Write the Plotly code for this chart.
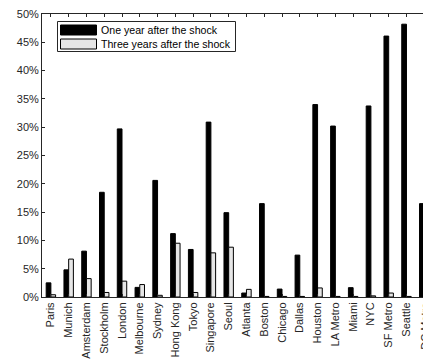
import plotly.graph_objects as go

# Share of office value lost after the shock, by metro area (percent)
cities = ["Paris", "Munich", "Amsterdam", "Stockholm", "London", "Melbourne",
          "Sydney", "Hong Kong", "Tokyo", "Singapore", "Seoul", "Atlanta",
          "Boston", "Chicago", "Dallas", "Houston", "LA Metro", "Miami",
          "NYC", "SF Metro", "Seattle", "DC Metro"]
one_year = [2.5, 4.8, 8.1, 18.5, 29.7, 1.7, 20.6, 11.2, 8.4, 30.9, 14.9,
            0.7, 16.5, 1.4, 7.4, 34.0, 30.2, 1.65, 33.75, 46.1, 48.2, 16.5]
three_years = [0.4, 6.7, 3.25, 0.8, 2.8, 2.2, 0.3, 9.5, 0.8, 7.8, 8.8,
               1.35, 0.1, 0.1, 0.1, 1.6, 0.1, 0.1, 0.2, 0.7, 0.1, 0.1]
series_names = ["One year after the shock", "Three years after the shock"]
y_ticks = list(range(0, 51, 5))
y_tick_labels = [f"{v}%" for v in y_ticks]

W, H = 423, 363
ML, MR, MT, MB = 42, 0, 14, 66
FONT = "Liberation Sans, Arial, Helvetica, sans-serif"
AXIS = "#262626"
BLACK = "#000000"
LIGHT = "#e6e6e6"


def px(x):
    return (x - ML) / (W - ML - MR)


def py(y):
    return 1 - (y - MT) / (H - MT - MB)


fig = go.Figure()
fig.add_trace(go.Bar(x=cities, y=one_year, name=series_names[0],
                     marker=dict(color=BLACK, line=dict(color=BLACK, width=1))))
fig.add_trace(go.Bar(x=cities, y=three_years, name=series_names[1],
                     marker=dict(color=LIGHT, line=dict(color=BLACK, width=1))))

# the axis is wider than the page, so the last city's label sits past the edge
last = len(cities) - 1
x_lo, x_hi = -0.5, 20.93
fig.add_annotation(x=(last - x_lo) / (x_hi - x_lo), y=0, xref="paper", yref="paper",
                   text=cities[last], textangle=-90, showarrow=False,
                   xanchor="center", yanchor="top", yshift=-4,
                   font=dict(family=FONT, size=11, color=AXIS))

# legend box drawn as a MATLAB-style legend
shapes = [
    dict(type="rect", xref="paper", yref="paper", x0=px(57.5), x1=px(235.5),
         y0=py(51.5), y1=py(21.5), line=dict(color=AXIS, width=1), fillcolor="white"),
    dict(type="rect", xref="paper", yref="paper", x0=px(60.5), x1=px(96.5),
         y0=py(35), y1=py(25), line=dict(color=BLACK, width=1), fillcolor=BLACK),
    dict(type="rect", xref="paper", yref="paper", x0=px(60.5), x1=px(96.5),
         y0=py(49), y1=py(39), line=dict(color=BLACK, width=1), fillcolor=LIGHT),
]
for name, yc in zip(series_names, [30, 44]):
    fig.add_annotation(x=px(98.5), y=py(yc), xref="paper", yref="paper",
                       text=name, showarrow=False, xanchor="left", yanchor="middle",
                       font=dict(family=FONT, size=10.6, color=BLACK))

fig.update_layout(
    width=W, height=H,
    margin=dict(l=ML, r=MR, t=MT, b=MB, pad=0),
    paper_bgcolor="white", plot_bgcolor="white",
    barmode="group", bargap=0.47, bargroupgap=0,
    showlegend=False,
    shapes=shapes,
    font=dict(family=FONT, size=11, color=AXIS),
)
fig.update_xaxes(range=[x_lo, x_hi], tickangle=-90, ticks="inside", ticklen=3,
                 tickcolor=AXIS, showline=True, linecolor=AXIS, linewidth=1,
                 mirror="ticks", showgrid=False, zeroline=False,
                 tickfont=dict(family=FONT, size=11, color=AXIS))
fig.update_yaxes(range=[0, 50], tickmode="array", tickvals=y_ticks,
                 ticktext=y_tick_labels, ticks="inside",
                 ticklen=3, tickcolor=AXIS, showline=True, linecolor=AXIS,
                 linewidth=1, showgrid=False, zeroline=False,
                 tickfont=dict(family=FONT, size=11, color=AXIS))

fig.write_html("out.html")
